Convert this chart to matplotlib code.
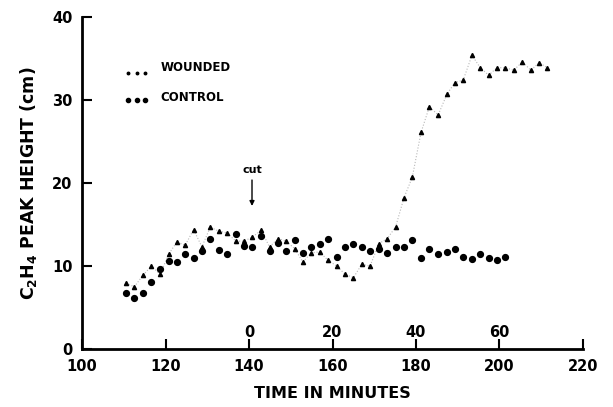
import matplotlib
matplotlib.use("Agg")
import matplotlib.pyplot as plt

# ── Data ──────────────────────────────────────────────────────────────────────
time_min = [110.5, 112.5, 114.6, 116.6, 118.7, 120.7, 122.7, 124.7, 126.7, 128.7,
            130.7, 132.7, 134.7, 136.8, 138.8, 140.8, 142.9, 144.9, 146.9, 148.9,
            150.9, 152.9, 154.9, 156.9, 158.9, 161.0, 163.0, 165.0, 167.0, 169.0,
            171.1, 173.1, 175.1, 177.1, 179.1, 181.2, 183.2, 185.3, 187.4, 189.3,
            191.3, 193.4, 195.4, 197.4, 199.4, 201.4, 203.4, 205.5, 207.5, 209.5,
            211.5]

wounded = [7.9, 7.5, 8.9, 10.0, 9.0, 11.4, 12.9, 12.5, 14.4, 12.3,
           14.7, 14.2, 14.0, 13.0, 13.0, 13.5, 14.3, 12.3, 13.3, 13.0,
           12.1, 10.5, 11.6, 11.7, 10.7, 10.0, 9.0, 8.6, 10.2, 10.0,
           12.7, 13.3, 14.7, 18.2, 20.7, 26.1, 29.2, 28.2, 30.7, 32.1,
           32.4, 35.4, 33.9, 33.0, 33.9, 33.9, 33.6, 34.6, 33.6, 34.5,
           33.9]

control = [6.8, 6.1, 6.7, 8.1, 9.7, 10.6, 10.5, 11.4, 11.0, 11.8,
           13.3, 11.9, 11.4, 13.9, 12.4, 12.3, 13.6, 11.8, 12.8, 11.8,
           13.1, 11.6, 12.3, 12.6, 13.3, 11.1, 12.3, 12.7, 12.3, 11.8,
           12.0, 11.6, 12.3, 12.3, 13.1, 11.0, 12.0, 11.5, 11.7, 12.1,
           11.1, 10.9, 11.4, 11.0, 10.7, 11.1]

x_ticks = [100, 120, 140, 160, 180, 200, 220]
y_ticks = [0, 10, 20, 30, 40]

# minutes after the cut, shown inside the plot
cut_time = 140.7
after_cut_pos = [140, 160, 180, 200]
after_cut_labels = ["0", "20", "40", "60"]

# ── Figure ────────────────────────────────────────────────────────────────────
plt.rcParams["font.family"] = "DejaVu Sans"
plt.rcParams["font.weight"] = "bold"
plt.rcParams["mathtext.default"] = "bf"

fig = plt.figure(figsize=(6.13, 4.07), dpi=100)
ax = fig.add_axes([0.134, 0.1425, 0.817, 0.8155])

ax.plot(time_min, wounded, linestyle=":", color="#b8b8b8", linewidth=0.8,
        marker="^", markersize=3.0, markerfacecolor="black",
        markeredgecolor="black", zorder=3)
ax.plot(time_min[:len(control)], control, linestyle="none", marker="o",
        markersize=4.2, color="black", zorder=3)

ax.set_xlim(100, 220)
ax.set_ylim(0, 40)
ax.set_xticks(x_ticks)
ax.set_yticks(y_ticks)

for side in ["top", "right"]:
    ax.spines[side].set_visible(False)
for side in ["left", "bottom"]:
    ax.spines[side].set_linewidth(2)

ax.tick_params(direction="in", length=7, width=1.5, labelsize=10.5, pad=7)
for lbl in ax.get_xticklabels() + ax.get_yticklabels():
    lbl.set_fontweight("bold")

ax.set_xlabel("TIME IN MINUTES", fontsize=11.5, fontweight="bold", labelpad=9)
ax.set_ylabel("C$_2$H$_4$ PEAK HEIGHT (cm)", fontsize=12.5, fontweight="bold",
              labelpad=9)

# second time scale (minutes after cut)
for pos, lab in zip(after_cut_pos, after_cut_labels):
    ax.text(pos, 2.0, lab, ha="center", va="center", fontsize=10.5,
            fontweight="bold")

# cut arrow
ax.annotate("", xy=(cut_time, 16.9), xytext=(cut_time, 20.7),
            arrowprops=dict(arrowstyle="-|>", color="black", lw=1.0,
                            mutation_scale=7))
ax.text(cut_time, 21.6, "cut", ha="center", va="center", fontsize=8,
        fontweight="bold")

# hand-made legend
tr = ax.transAxes
ax.plot([0.092, 0.109, 0.126], [0.833, 0.833, 0.833], linestyle="none",
        marker="o", markersize=1.8, color="black", transform=tr)
ax.plot([0.092, 0.109, 0.126], [0.750, 0.750, 0.750], linestyle="none",
        marker="o", markersize=3.0, color="black", transform=tr)
ax.text(0.156, 0.847, "WOUNDED", transform=tr, fontsize=8.5,
        fontweight="bold", va="center")
ax.text(0.156, 0.757, "CONTROL", transform=tr, fontsize=8.5,
        fontweight="bold", va="center")

plt.savefig("out.png", dpi=100)
